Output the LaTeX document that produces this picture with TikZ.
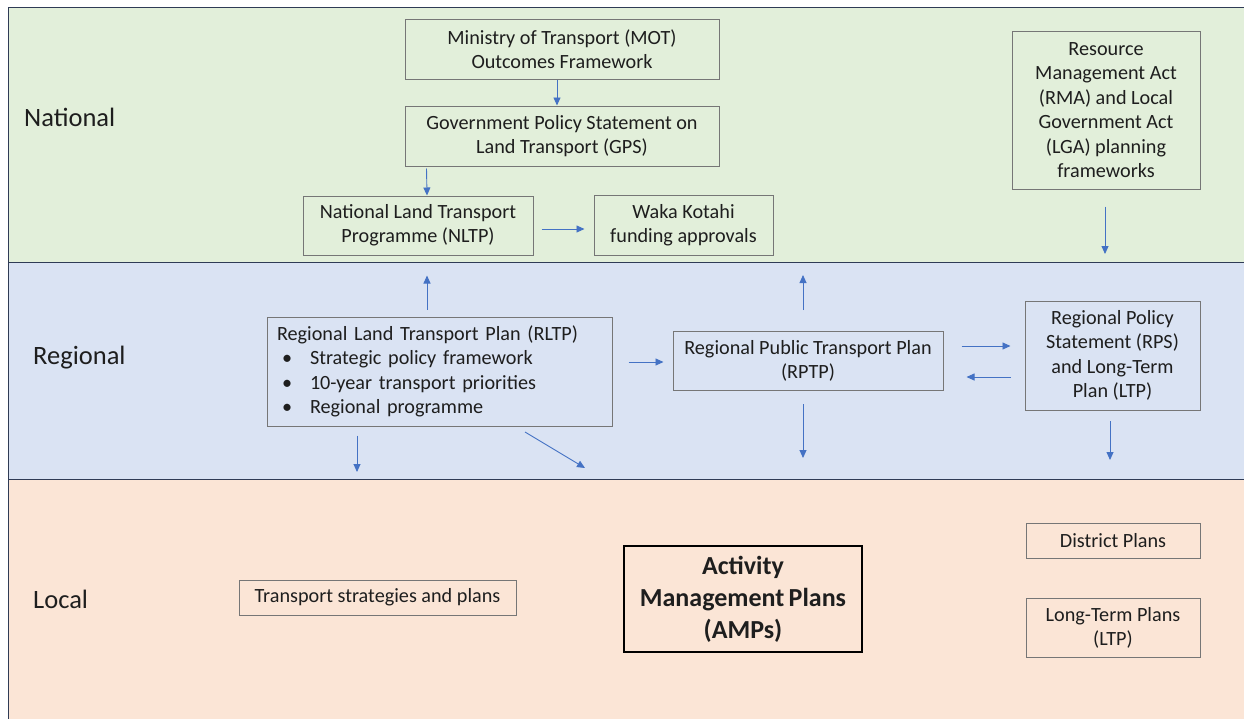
\documentclass[tikz,border=0pt]{standalone}
\usepackage{fontspec}
\setmainfont{Carlito}
\usetikzlibrary{arrows.meta,calc}
\definecolor{natfill}{HTML}{E2EFDA}
\definecolor{regfill}{HTML}{DAE3F3}
\definecolor{locfill}{HTML}{FBE5D6}
\definecolor{bandline}{HTML}{2F3B55}
\definecolor{boxgray}{HTML}{767676}
\definecolor{arrblue}{HTML}{4472C4}
\definecolor{txt}{HTML}{1E1E1E}
\begin{document}
\begin{tikzpicture}[x=1pt,y=-1pt,
  band/.style={line width=1pt,draw=bandline},
  box/.style={draw=boxgray,line width=1pt,inner sep=0pt,align=center,text=txt,
    font=\fontsize{20.2}{24.4}\selectfont},
  bandlabel/.style={anchor=west,inner sep=0pt,text=txt,font=\fontsize{26.5}{30}\selectfont},
  arr/.style={draw=arrblue,line width=0.9pt,-{Triangle[length=8pt,width=7pt]}}]
\useasboundingbox (0,0) rectangle (1244,718);
% bands
\fill[white] (0,0) rectangle (1244,718);
\filldraw[band,fill=natfill] (8,7) rectangle (1260,262);
\filldraw[band,fill=regfill] (8,262) rectangle (1260,479);
\filldraw[band,fill=locfill] (8,479) rectangle (1260,730);
% band labels
\node[bandlabel] (nat) at (24,117) {National};
\node[bandlabel] (reg) at (33,358) {Regional};
\node[bandlabel] (loc) at (33,599) {Local};
% national boxes
\node[box,minimum width=314pt,minimum height=60pt] (mot) at (562,49)
  {Ministry of Transport (MOT)\\Outcomes Framework};
\node[box,minimum width=314pt,minimum height=60pt] (gps) at (562,136)
  {Government Policy Statement on\\Land Transport (GPS)};
\node[box,minimum width=230pt,minimum height=59pt] (nltp) at (418,225.5)
  {National Land Transport\\Programme (NLTP)};
\node[box,minimum width=179pt,minimum height=60pt] (waka) at (683.5,225.5)
  {Waka Kotahi\\funding approvals};
\node[box,minimum width=188pt,minimum height=158pt] (rma) at (1106,110)
  {Resource\\Management Act\\(RMA) and Local\\Government Act\\(LGA) planning\\frameworks};
% regional boxes
\node[box,align=left,inner xsep=10pt,text width=325pt,minimum height=109pt] (rltp) at (439.5,371.5)
  {Regional Land Transport Plan (RLTP)\\
   \hspace*{5pt}\makebox[28pt][l]{\textbullet}Strategic policy framework\\
   \hspace*{5pt}\makebox[28pt][l]{\textbullet}10-year transport priorities\\
   \hspace*{5pt}\makebox[28pt][l]{\textbullet}Regional programme};
\node[box,minimum width=270pt,minimum height=59pt] (rptp) at (808,361)
  {Regional Public Transport Plan\\(RPTP)};
\node[box,minimum width=175pt,minimum height=109pt] (rps) at (1112.5,355.5)
  {Regional Policy\\Statement (RPS)\\and Long-Term\\Plan (LTP)};
% local boxes
\node[box,minimum width=277pt,minimum height=35pt] (tsp) at (377.5,597.5)
  {Transport strategies and plans};
\node[box,draw=black,line width=2pt,minimum width=238pt,minimum height=106pt,
  font=\fontsize{26}{32}\selectfont\bfseries] (amp) at (743,599)
  {Activity\\Management\,Plans\\(AMPs)};
\node[box,minimum width=174pt,minimum height=35pt] (dp) at (1113,541)
  {District Plans};
\node[box,minimum width=174pt,minimum height=59pt] (ltp) at (1113,628)
  {Long-Term Plans\\(LTP)};
% free-end coordinates
\coordinate (upR) at (803,275);
\coordinate (dnL) at (357,472);
\coordinate (diagS) at (525,432);
\coordinate (diagE) at (585,468);
\coordinate (dnM) at (803,458);
\coordinate (dnRs) at (1110,421);
\coordinate (dnRe) at (1110,460);
\coordinate (rmaE) at (1105,254);
% connectors
\draw[arr] ($(mot.south)+(-5,0)$) -- ($(gps.north)+(-5,0)$);
\draw[arr] ($(gps.south west)+(22,2)$) -- ($(nltp.north)+(9,0)$);
\draw[arr] ($(nltp.east)+(8,3.5)$) -- ($(waka.west)+(-9,3.5)$);
\draw[arr] ($(rma.south)+(-1,17)$) -- (rmaE);
\draw[arr] ($(rltp.north)+(-12.5,-7)$) -- ($(nltp.south)+(9,20)$);
\draw[arr] ($(rptp.north)+(-5,-21)$) -- (upR);
\draw[arr] ($(rltp.east)+(16,-9.5)$) -- ($(rptp.west)+(-9,1)$);
\draw[arr] ($(rptp.east)+(18,-15)$) -- ($(rps.west)+(-14,-9.5)$);
\draw[arr] ($(rps.west)+(-14,21.5)$) -- ($(rptp.east)+(23,16)$);
\draw[arr] ($(rltp.south)+(-82.5,9)$) -- (dnL);
\draw[arr] (diagS) -- (diagE);
\draw[arr] ($(rptp.south)+(-5,13)$) -- (dnM);
\draw[arr] (dnRs) -- (dnRe);
\end{tikzpicture}
\end{document}
